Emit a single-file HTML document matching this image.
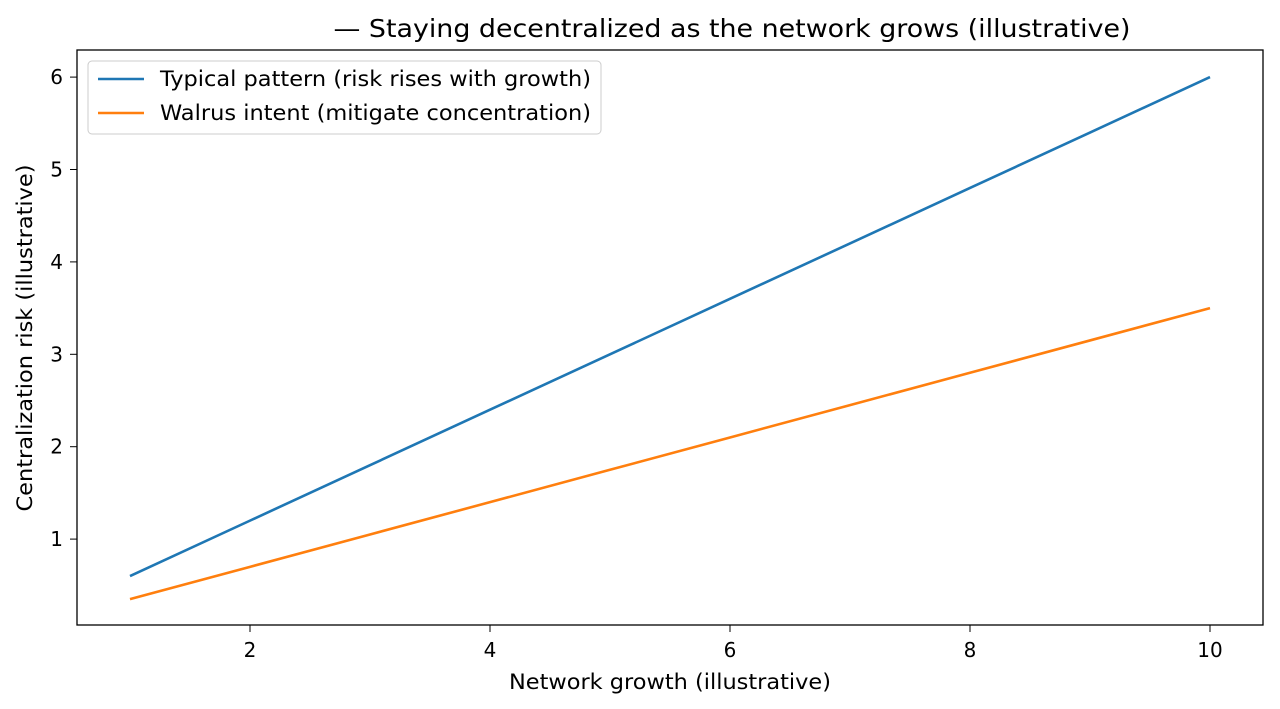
<!DOCTYPE html>
<html><head><meta charset="utf-8"><style>
body{margin:0;background:#fff;}
svg{display:block;font-family:"DejaVu Sans","Liberation Sans",sans-serif;}
</style></head><body>
<svg id="chart" width="1280" height="709">
<text x="732" y="37" font-size="25" text-anchor="middle" textLength="797" lengthAdjust="spacingAndGlyphs" fill="#000">— Staying decentralized as the network grows (illustrative)</text>
<g id="ticks"></g>
<g id="lines"></g>
<rect x="77" y="50" width="1186" height="575" fill="none" stroke="#000" stroke-width="1.3"/>
<text x="670" y="689" font-size="21" text-anchor="middle" textLength="322" lengthAdjust="spacingAndGlyphs">Network growth (illustrative)</text>
<text transform="translate(32,338) rotate(-90)" font-size="21" text-anchor="middle" textLength="347" lengthAdjust="spacingAndGlyphs">Centralization risk (illustrative)</text>
<g>
<rect x="88" y="61" width="513" height="73" rx="4" fill="#fff" stroke="#ccc"/>
<line x1="98" y1="79" x2="144" y2="79" stroke="#1f77b4" stroke-width="2.5"/>
<text x="160" y="86" font-size="21" textLength="431" lengthAdjust="spacingAndGlyphs">Typical pattern (risk rises with growth)</text>
<line x1="98" y1="113" x2="144" y2="113" stroke="#ff7f0e" stroke-width="2.5"/>
<text x="160" y="120" font-size="21" textLength="431" lengthAdjust="spacingAndGlyphs">Walrus intent (mitigate concentration)</text>
</g>
</svg>
<script>
const xs = [1,2,3,4,5,6,7,8,9,10];
const typical = [0.6,1.2,1.8,2.4,3.0,3.6,4.2,4.8,5.4,6.0];
const walrus = [0.35,0.7,1.05,1.4,1.75,2.1,2.45,2.8,3.15,3.5];
const xTicks = [2,4,6,8,10];
const yTicks = [1,2,3,4,5,6];
const NS='http://www.w3.org/2000/svg';
function sx(v){return 130+(v-1)*120;}
function sy(v){return 631.5-v*92.4;}
const tg=document.getElementById('ticks');
xTicks.forEach(t=>{
  const l=document.createElementNS(NS,'line');
  l.setAttribute('x1',sx(t));l.setAttribute('x2',sx(t));l.setAttribute('y1',625);l.setAttribute('y2',632);l.setAttribute('stroke','#000');
  
  
  tg.appendChild(l);
  const tx=document.createElementNS(NS,'text');
  tx.setAttribute('x',sx(t));tx.setAttribute('y',657);tx.setAttribute('font-size','20');tx.setAttribute('text-anchor','middle');tx.textContent=t;
  
  
  tg.appendChild(tx);
});
yTicks.forEach(t=>{
  const l=document.createElementNS(NS,'line');
  l.setAttribute('x1',70);l.setAttribute('x2',77);l.setAttribute('y1',sy(t));l.setAttribute('y2',sy(t));l.setAttribute('stroke','#000');
  
  
  tg.appendChild(l);
  const tx=document.createElementNS(NS,'text');
  tx.setAttribute('x',63);tx.setAttribute('y',sy(t)+7);tx.setAttribute('font-size','20');tx.setAttribute('text-anchor','end');tx.textContent=t;
  
  
  tg.appendChild(tx);
});
const lg=document.getElementById('lines');
function drawLine(vals,color,name){
  const p=document.createElementNS(NS,'polyline');
  p.setAttribute('points',xs.map((x,i)=>sx(x)+','+sy(vals[i])).join(' '));
  p.setAttribute('fill','none');p.setAttribute('stroke',color);p.setAttribute('stroke-width','2.6');
  
  
  lg.appendChild(p);
}
drawLine(typical,'#1f77b4','typical-pattern-line');
drawLine(walrus,'#ff7f0e','walrus-intent-line');
</script>
</body></html>
